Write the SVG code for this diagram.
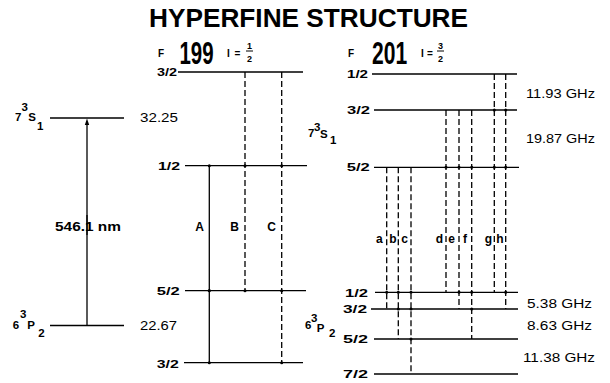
<svg xmlns="http://www.w3.org/2000/svg" width="610" height="383" viewBox="0 0 610 383">
<style>
.lv{stroke:#000;stroke-width:1.3;fill:none}
.sol{stroke:#000;stroke-width:1.3;fill:none}
.dash{stroke:#000;stroke-width:1.3;fill:none;stroke-dasharray:6 3}
.b{font-family:"Liberation Sans",Arial,sans-serif;font-weight:bold;fill:#000}
.r{font-family:"Liberation Sans",Arial,sans-serif;fill:#000}
.fl{font-family:"Liberation Sans",Arial,sans-serif;font-weight:bold;font-size:11px;fill:#000}
.sy{font-family:"Liberation Sans",Arial,sans-serif;font-weight:bold;font-size:11.5px;fill:#000}
.tl{font-family:"Liberation Sans",Arial,sans-serif;font-weight:bold;font-size:12px;fill:#000;text-anchor:middle}
.gh{font-family:"Liberation Sans",Arial,sans-serif;font-size:12px;fill:#000}
.sm{font-family:"Liberation Sans",Arial,sans-serif;font-weight:bold;font-size:9px;fill:#000}
.dot{fill:#000}
</style>
<rect width="610" height="383" fill="#fff"/>
<text class="b" x="149" y="27" font-size="25" textLength="319" lengthAdjust="spacingAndGlyphs">HYPERFINE STRUCTURE</text>

<!-- Left overview -->
<g id="level-7S1-left">
<line class="lv" x1="50" y1="118" x2="124" y2="118"/>
<text class="sy" x="15" y="121">7</text>
<text class="sy" x="21.5" y="111">3</text>
<text class="sy" x="28.3" y="121">S</text>
<text class="sy" x="37" y="130">1</text>
<text class="r" x="140" y="122" font-size="12.5" textLength="38" lengthAdjust="spacingAndGlyphs">32.25</text>
</g>
<g id="level-6P2-left">
<line class="lv" x1="50" y1="325.5" x2="124" y2="325.5"/>
<text class="sy" x="12.7" y="329.3">6</text>
<text class="sy" x="20" y="318">3</text>
<text class="sy" x="27.3" y="329.3">P</text>
<text class="sy" x="38.3" y="337.3">2</text>
<text class="r" x="140" y="330" font-size="12.5" textLength="37" lengthAdjust="spacingAndGlyphs">22.67</text>
</g>

<!-- 199 header -->
<g id="header-199">
<text class="b" x="158" y="56.5" font-size="10">F</text>
<text class="b" transform="translate(179.5,63.5) scale(0.66,1)" x="0" y="0" font-size="31">199</text>
<text class="b" x="227" y="56.5" font-size="10">I</text>
<text class="b" x="234.5" y="56.5" font-size="10">=</text>
<text class="sm" x="249.5" y="49" text-anchor="middle">1</text>
<line x1="246" y1="51" x2="253" y2="51" stroke="#000" stroke-width="1"/>
<text class="sm" x="249.5" y="61.5" text-anchor="middle">2</text>
</g>

<!-- 199 levels -->
<g id="h199-F3-2-upper">
<text class="fl" x="157" y="75.5" textLength="20" lengthAdjust="spacingAndGlyphs">3/2</text>
<line class="lv" x1="178" y1="72" x2="303" y2="72"/>
</g>
<g id="h199-F1-2-upper">
<text class="fl" x="158" y="170" textLength="22" lengthAdjust="spacingAndGlyphs">1/2</text>
<line class="lv" x1="185" y1="165.7" x2="307" y2="165.7"/>
</g>
<g id="h199-F5-2-lower">
<text class="fl" x="156.7" y="295" textLength="23" lengthAdjust="spacingAndGlyphs">5/2</text>
<line class="lv" x1="185" y1="290.7" x2="306" y2="290.7"/>
</g>
<g id="h199-F3-2-lower">
<text class="fl" x="156.7" y="367.5" textLength="22" lengthAdjust="spacingAndGlyphs">3/2</text>
<line class="lv" x1="184" y1="362.7" x2="303" y2="362.7"/>
</g>

<!-- 201 header -->
<g id="header-201">
<text class="b" x="348" y="56.7" font-size="10">F</text>
<text class="b" transform="translate(372,64) scale(0.68,1)" x="0" y="0" font-size="31">201</text>
<text class="b" x="421" y="56.5" font-size="10">I</text>
<text class="b" x="427" y="56.5" font-size="10">=</text>
<text class="sm" x="440.5" y="49" text-anchor="middle">3</text>
<line x1="437" y1="51" x2="444" y2="51" stroke="#000" stroke-width="1"/>
<text class="sm" x="440.5" y="61.5" text-anchor="middle">2</text>
</g>

<!-- 201 levels -->
<g id="h201-F1-2-upper">
<text class="fl" x="347" y="77.5" textLength="21" lengthAdjust="spacingAndGlyphs">1/2</text>
<line class="lv" x1="372" y1="74" x2="517" y2="74"/>
</g>
<g id="h201-F3-2-upper">
<text class="fl" x="347" y="114" textLength="23" lengthAdjust="spacingAndGlyphs">3/2</text>
<line class="lv" x1="374" y1="110" x2="517" y2="110"/>
</g>
<g id="h201-F5-2-upper">
<text class="fl" x="346.7" y="171" textLength="23" lengthAdjust="spacingAndGlyphs">5/2</text>
<line class="lv" x1="374" y1="167.3" x2="519" y2="167.3"/>
</g>
<g id="h201-F1-2-lower">
<text class="fl" x="345" y="296.5" textLength="23" lengthAdjust="spacingAndGlyphs">1/2</text>
<line class="lv" x1="375" y1="292.3" x2="518" y2="292.3"/>
</g>
<g id="h201-F3-2-lower">
<text class="fl" x="343" y="312.7" textLength="24" lengthAdjust="spacingAndGlyphs">3/2</text>
<line class="lv" x1="371" y1="309" x2="518" y2="309"/>
</g>
<g id="h201-F5-2-lower">
<text class="fl" x="343" y="343" textLength="25" lengthAdjust="spacingAndGlyphs">5/2</text>
<line class="lv" x1="374" y1="339" x2="518" y2="339"/>
</g>
<g id="h201-F7-2-lower">
<text class="fl" x="343" y="378" textLength="25" lengthAdjust="spacingAndGlyphs">7/2</text>
<line class="lv" x1="374" y1="374" x2="518" y2="374"/>
</g>

<!-- 201 term labels -->
<g id="label-7S1-right">
<text class="sy" x="308" y="137">7</text>
<text class="sy" x="314" y="130.5">3</text>
<text class="sy" x="320" y="138">S</text>
<text class="sy" x="330" y="144">1</text>
</g>
<g id="label-6P2-right">
<text class="sy" x="305" y="329.3">6</text>
<text class="sy" x="311" y="321.7">3</text>
<text class="sy" x="316.7" y="331.7">P</text>
<text class="sy" x="329" y="336.7">2</text>
</g>

<!-- splittings -->
<g id="splittings">
<text class="gh" x="526" y="97.7" textLength="69" lengthAdjust="spacingAndGlyphs">11.93 GHz</text>
<text class="gh" x="526" y="143.3" textLength="69" lengthAdjust="spacingAndGlyphs">19.87 GHz</text>
<text class="gh" x="527" y="307.7" textLength="65" lengthAdjust="spacingAndGlyphs">5.38 GHz</text>
<text class="gh" x="527" y="330" textLength="65" lengthAdjust="spacingAndGlyphs">8.63 GHz</text>
<text class="gh" x="523" y="361.7" textLength="72" lengthAdjust="spacingAndGlyphs">11.38 GHz</text>
</g>

<!-- connectors -->
<g id="connectors">
<line class="sol" x1="87" y1="325.5" x2="87" y2="215"/>
<line class="sol" x1="87" y1="235" x2="87" y2="124"/>
<polygon points="87,118.5 84.8,125 89.2,125" fill="#000"/>
<text class="b" x="55" y="230.5" font-size="12.5" textLength="66" lengthAdjust="spacingAndGlyphs">546.1 nm</text>

<line class="sol" x1="209.3" y1="165.7" x2="209.3" y2="362.7"/>
<line class="dash" x1="245" y1="72" x2="245" y2="290.7"/>
<line class="dash" x1="281.7" y1="72" x2="281.7" y2="362.7"/>
<text class="tl" x="199.5" y="230.5">A</text>
<text class="tl" x="234.7" y="230.5">B</text>
<text class="tl" x="271.7" y="230.5">C</text>
<circle class="dot" cx="209.3" cy="165.7" r="1.5"/>
<circle class="dot" cx="209.3" cy="290.7" r="1.6"/>
<circle class="dot" cx="209.3" cy="362.7" r="1.5"/>
<circle class="dot" cx="245" cy="165.7" r="1.5"/>
<circle class="dot" cx="245" cy="290.7" r="1.5"/>
<circle class="dot" cx="281.7" cy="165.7" r="1.5"/>
<circle class="dot" cx="281.7" cy="290.7" r="1.5"/>
<circle class="dot" cx="281.7" cy="362.7" r="1.5"/>

<line class="dash" x1="386.7" y1="167.3" x2="386.7" y2="309"/>
<line class="dash" x1="398.3" y1="167.3" x2="398.3" y2="339"/>
<line class="dash" x1="411" y1="167.3" x2="411" y2="374"/>
<line class="dash" x1="446" y1="110" x2="446" y2="292.3"/>
<line class="dash" x1="459" y1="110" x2="459" y2="309"/>
<line class="dash" x1="471.7" y1="110" x2="471.7" y2="339"/>
<line class="dash" x1="494.3" y1="74" x2="494.3" y2="292.3"/>
<line class="dash" x1="505.7" y1="74" x2="505.7" y2="309"/>
<text class="tl" x="379.3" y="242.5">a</text>
<text class="tl" x="393" y="242.5">b</text>
<text class="tl" x="404.5" y="242.5">c</text>
<text class="tl" x="439.3" y="242.5">d</text>
<text class="tl" x="451.5" y="242.5">e</text>
<text class="tl" x="465" y="242.5">f</text>
<text class="tl" x="488.3" y="242.5">g</text>
<text class="tl" x="500" y="242.5">h</text>
<circle class="dot" cx="386.7" cy="292.3" r="1.5"/>
<circle class="dot" cx="398.3" cy="292.3" r="1.5"/>
<circle class="dot" cx="398.3" cy="309" r="1.5"/>
<circle class="dot" cx="411" cy="292.3" r="1.5"/>
<circle class="dot" cx="411" cy="309" r="1.5"/>
<circle class="dot" cx="411" cy="339" r="1.5"/>
<circle class="dot" cx="446" cy="167.3" r="1.5"/>
<circle class="dot" cx="459" cy="167.3" r="1.5"/>
<circle class="dot" cx="459" cy="292.3" r="1.5"/>
<circle class="dot" cx="471.7" cy="167.3" r="1.5"/>
<circle class="dot" cx="471.7" cy="292.3" r="1.5"/>
<circle class="dot" cx="471.7" cy="309" r="1.5"/>
<circle class="dot" cx="494.3" cy="110" r="1.5"/>
<circle class="dot" cx="494.3" cy="167.3" r="1.5"/>
<circle class="dot" cx="505.7" cy="110" r="1.5"/>
<circle class="dot" cx="505.7" cy="167.3" r="1.5"/>
<circle class="dot" cx="505.7" cy="292.3" r="1.5"/>
</g>
</svg>
